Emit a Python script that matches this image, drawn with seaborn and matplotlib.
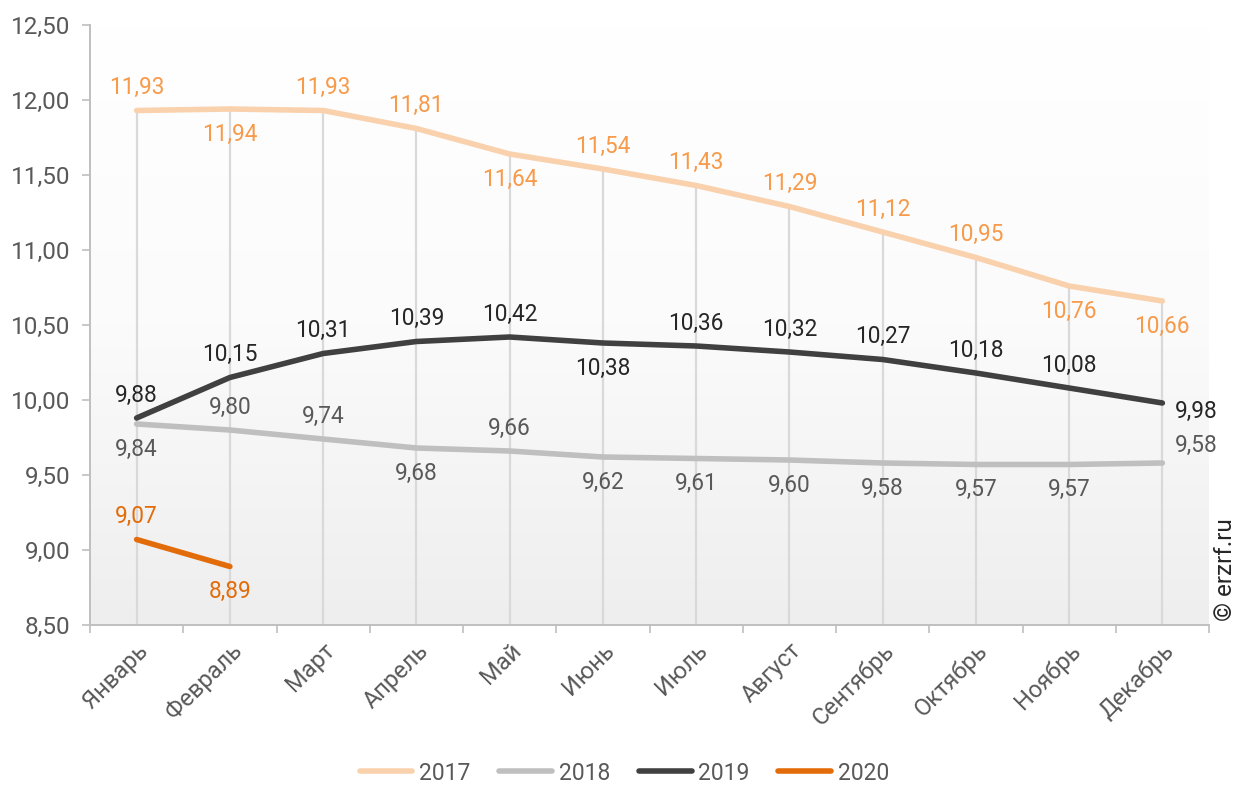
import numpy as np
import pandas as pd
import matplotlib
matplotlib.use("Agg")
import matplotlib.pyplot as plt
from matplotlib.lines import Line2D
import seaborn as sns

months = ["Январь", "Февраль", "Март", "Апрель", "Май", "Июнь",
          "Июль", "Август", "Сентябрь", "Октябрь", "Ноябрь", "Декабрь"]
y2017 = [11.93, 11.94, 11.93, 11.81, 11.64, 11.54, 11.43, 11.29, 11.12, 10.95, 10.76, 10.66]
y2018 = [9.84, 9.80, 9.74, 9.68, 9.66, 9.62, 9.61, 9.60, 9.58, 9.57, 9.57, 9.58]
y2019 = [9.88, 10.15, 10.31, 10.39, 10.42, 10.38, 10.36, 10.32, 10.27, 10.18, 10.08, 9.98]
y2020 = [9.07, 8.89]
years = ["2017", "2018", "2019", "2020"]
yticks = [8.5, 9.0, 9.5, 10.0, 10.5, 11.0, 11.5, 12.0, 12.5]

line_colors = {"2017": "#f9d1ad", "2018": "#bfbfbf", "2019": "#404040", "2020": "#e36c0a"}
label_colors = {"2017": "#f79a4a", "2018": "#595959", "2019": "#262626", "2020": "#e36c0a"}

# label placement per point: "a" above, "b" below, "r" right, "ar" above-right
pos2017 = ["a", "b", "a", "a", "b", "a", "a", "a", "a", "a", "b", "b"]
pos2018 = ["b", "a", "a", "b", "a", "b", "b", "b", "b", "b", "b", "ar"]
pos2019 = ["a", "a", "a", "a", "a", "b", "a", "a", "a", "a", "a", "r"]
pos2020 = ["a", "b"]

series = {"2017": y2017, "2018": y2018, "2019": y2019, "2020": y2020}
positions = {"2017": pos2017, "2018": pos2018, "2019": pos2019, "2020": pos2020}

rows = []
for yr, vals in series.items():
    for i, v in enumerate(vals):
        rows.append({"month": i, "value": v, "year": yr})
df = pd.DataFrame(rows)

sns.set_theme(style="white")
plt.rcParams["font.family"] = ["Roboto", "DejaVu Sans"]

fig = plt.figure(figsize=(12.49, 7.85), dpi=100)
ax = fig.add_axes([90 / 1249, 1 - 625 / 785, 1119 / 1249, 600 / 785])

ax.set_xlim(-0.5, 11.5)
ax.set_ylim(8.5, 12.5)

# soft vertical gradient in the plot area: white on top, light gray at the bottom
grad = np.linspace(1, 0, 256).reshape(-1, 1)
cmap = matplotlib.colors.LinearSegmentedColormap.from_list("bg", ["#ffffff", "#fbfbfb", "#eeeeee"])
ax.imshow(grad, extent=[-0.5, 11.5, 8.5, 12.5], aspect="auto", cmap=cmap,
          zorder=0, origin="lower", vmin=0, vmax=1)

# drop lines from the top series down to the axis
ax.vlines(range(len(y2017)), 8.5, y2017, colors="#d9d9d9", lw=1.6, zorder=1)

sns.lineplot(data=df, x="month", y="value", hue="year", palette=line_colors,
             lw=4, ax=ax, legend=False, zorder=3, solid_capstyle="round")

for yr in years:
    for i, (v, p) in enumerate(zip(series[yr], positions[yr])):
        txt = f"{v:.2f}".replace(".", ",")
        if p == "a":
            dx, dy, ha = 0, 23, "center"
        elif p == "b":
            dx, dy, ha = 0, -25, "center"
        elif p == "r":
            dx, dy, ha = 12, -8, "left"
        else:
            dx, dy, ha = 12, 18, "left"
        ax.annotate(txt, (i, v), xytext=(dx, dy), textcoords="offset pixels",
                    ha=ha, va="center", fontsize=16.3, color=label_colors[yr], zorder=4)

ax.set_yticks(yticks)
ax.set_yticklabels([f"{t:.2f}".replace(".", ",") for t in yticks])
ax.set_xticks(range(12))
ax.set_xticklabels(months, rotation=45, ha="right", va="top", rotation_mode="anchor")
for lbl in ax.get_xticklabels():
    lbl.set_x(lbl.get_position()[0])
ax.set_xticks(np.arange(-0.5, 12, 1), minor=True)
ax.tick_params(axis="x", which="major", length=0, pad=10, labelsize=17, labelcolor="#595959")
ax.tick_params(axis="x", which="minor", length=6, width=1.2, color="#bfbfbf", direction="out", bottom=True)
ax.tick_params(axis="y", length=6, width=1.2, color="#bfbfbf", left=True, pad=8,
               labelsize=17.5, labelcolor="#595959")
ax.set_xlabel("")
ax.set_ylabel("")
for s in ["top", "right"]:
    ax.spines[s].set_visible(False)
for s in ["left", "bottom"]:
    ax.spines[s].set_color("#bfbfbf")
    ax.spines[s].set_linewidth(1.4)

handles = [Line2D([0], [0], color=line_colors[y], lw=4, solid_capstyle="round") for y in years]
fig.legend(handles, years, loc="center", bbox_to_anchor=(0.5, 1 - 773 / 785), ncol=4,
           frameon=False, fontsize=16.5, handlelength=2.3, handletextpad=0.3,
           columnspacing=1.25, labelcolor="#595959")

fig.text(1226 / 1249, 1 - 570 / 785, "© erzrf.ru", rotation=90, ha="center", va="center",
         fontsize=17.5, color="#262626")

fig.savefig("out.png", dpi=100)
